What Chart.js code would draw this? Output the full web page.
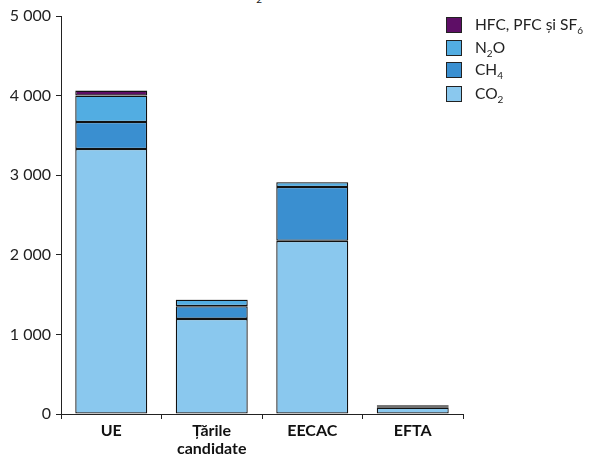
<!DOCTYPE html>
<html><head><meta charset="utf-8">
<script src="https://cdn.jsdelivr.net/npm/chart.js@4"></script>
<style>
html,body{margin:0;padding:0;background:#fff;width:592px;height:454px;overflow:hidden;position:relative;font-family:Lato,sans-serif;}
canvas{position:absolute;left:0;top:0;}
#title{position:absolute;right:330px;top:-18px;font-size:15px;color:#222;white-space:nowrap;}
#title sub{vertical-align:-6px;}
#legend{position:absolute;left:446px;top:17px;}
.item{position:absolute;left:0;height:16px;white-space:nowrap;font-size:15.5px;color:#222;}
.sw{position:absolute;left:0;top:0;width:14px;height:14px;border:1px solid #222;}
.lab{position:absolute;left:29px;top:-2px;line-height:18px;}
sub{font-size:10px;vertical-align:-4px;line-height:0;}
</style></head><body>
<div id="title">Milioane de tone echivalent CO<sub>2</sub></div>
<canvas id="c" width="592" height="454"></canvas>
<div id="legend"></div>
<script>
const categories = [["UE"], ["Țările", "candidate"], ["EECAC"], ["EFTA"]];
const seriesNames = ["CO2", "CH4", "N2O", "HFC, PFC și SF6"];
const co2 = [3330, 1195, 2175, 78];
const ch4 = [338, 160, 677, 12];
const n2o = [332, 80, 59, 12];
const hfc = [63, 3, 5, 8];
const yTicks = [0, 1000, 2000, 3000, 4000, 5000];

const colors = ["#8AC8EE", "#3A8FD0", "#52ADE2", "#5E0E66"];
const values = [co2, ch4, n2o, hfc];
const ink = "#222";

const datasets = values.map((v, i) => ({
  label: seriesNames[i],
  data: v,
  backgroundColor: colors[i],
  borderColor: "#111",
  borderWidth: 1.3,
  borderSkipped: false,
  categoryPercentage: 1,
  barPercentage: 0.716
}));

const fmt = n => String(n).replace(/\B(?=(\d{3})+(?!\d))/g, " ");

new Chart(document.getElementById("c"), {
  type: "bar",
  data: { labels: categories, datasets },
  options: {
    responsive: false,
    animation: false,
    layout: { padding: { top: 16, right: 129, bottom: 0, left: 0 } },
    plugins: { legend: { display: false }, tooltip: { enabled: false }, title: { display: false } },
    scales: {
      x: {
        stacked: true,
        grid: { display: true, offset: true, drawOnChartArea: false, drawTicks: true, tickLength: 5, color: ink, lineWidth: 1 },
        border: { display: true, color: ink, width: 1 },
        ticks: { color: "#111", font: { family: "Lato", size: 16, weight: "bold", lineHeight: 1.1 }, padding: 3, maxRotation: 0, autoSkip: false },
        afterFit: s => { s.height = 40; }
      },
      y: {
        stacked: true,
        min: 0, max: 5000,
        afterBuildTicks: s => { s.ticks = yTicks.map(v => ({ value: v })); },
        grid: { display: true, drawOnChartArea: false, drawTicks: true, tickLength: 5, color: ink, lineWidth: 1 },
        border: { display: true, color: ink, width: 1 },
        ticks: { color: ink, font: { family: "Lato", size: 16 }, padding: 5, callback: v => fmt(v) },
        afterFit: s => { s.width = 61; }
      }
    }
  }
});

const legend = document.getElementById("legend");
const order = [3, 2, 1, 0];
const tops = [0, 23, 45, 69];
order.forEach((idx, k) => {
  const it = document.createElement("div");
  it.className = "item";
  it.style.top = tops[k] + "px";
  const sw = document.createElement("div");
  sw.className = "sw";
  sw.style.background = colors[idx];
  const lab = document.createElement("div");
  lab.className = "lab";
  lab.innerHTML = seriesNames[idx].replace(/([A-Z])(\d)/g, "$1<sub>$2</sub>");
  it.appendChild(sw); it.appendChild(lab);
  legend.appendChild(it);
});
</script>
</body></html>
